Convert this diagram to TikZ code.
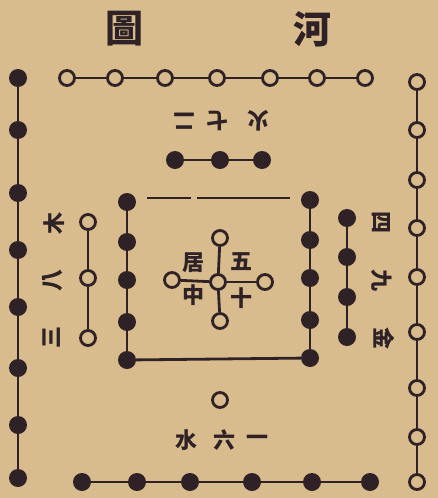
\documentclass[tikz,border=0pt]{standalone}
\usepackage{fontspec}
\newfontfamily\cjk{Noto Sans CJK TC}
\definecolor{bg}{HTML}{D9BC8E}
\definecolor{ink}{HTML}{2E2226}
\begin{document}
\begin{tikzpicture}[x=1pt,y=-1pt,
  bdot/.style={circle,fill=ink,minimum size=18pt,inner sep=0pt},
  wdot/.style={circle,draw=ink,line width=2.8pt,fill=bg,minimum size=15pt,inner sep=0pt},
  link/.style={draw=ink,line width=2.8pt},
  lab/.style={font=\cjk\bfseries\fontsize{22}{22}\selectfont,text=ink,inner sep=0pt},
  ttl/.style={font=\cjk\bfseries\fontsize{38}{38}\selectfont,text=ink,inner sep=0pt}]
\fill[bg] (0,0) rectangle (438,498);
\useasboundingbox (0,0) rectangle (438,498);
% title
\node[ttl] (t1) at (124,29) {圖};
\node[ttl] (t2) at (312,29) {河};
% outer left: 8 black
\foreach \y [count=\i] in {78,130,193,250,307,368,425,478}
  \node[bdot] (L\i) at (18,\y) {};
\foreach \i [remember=\i as \lasti (initially 1)] in {2,...,8}
  \draw[link] (L\lasti) -- (L\i);
% outer bottom: 6 black
\foreach \x [count=\i] in {82,137,190,252,312,370}
  \node[bdot] (B\i) at (\x,482) {};
\foreach \i [remember=\i as \lasti (initially 1)] in {2,...,6}
  \draw[link] (B\lasti) -- (B\i);
% outer top: 7 white
\foreach \x [count=\i] in {67,115,165,217,270,317,365}
  \node[wdot] (T\i) at (\x,78) {};
\foreach \i [remember=\i as \lasti (initially 1)] in {2,...,7}
  \draw[link] (T\lasti) -- (T\i);
% outer right: 9 white
\foreach \y [count=\i] in {82,130,180,228,277,332,388,437,482}
  \node[wdot] (R\i) at (417,\y) {};
\foreach \i [remember=\i as \lasti (initially 1)] in {2,...,9}
  \draw[link] (R\lasti) -- (R\i);
% inner left: 3 white
\foreach \y [count=\i] in {222,278,338}
  \node[wdot] (IL\i) at (88,\y) {};
\foreach \i [remember=\i as \lasti (initially 1)] in {2,3}
  \draw[link] (IL\lasti) -- (IL\i);
% inner right: 4 black
\foreach \y [count=\i] in {218,257,297,337}
  \node[bdot] (IR\i) at (347,\y) {};
\foreach \i [remember=\i as \lasti (initially 1)] in {2,...,4}
  \draw[link] (IR\lasti) -- (IR\i);
% inner top: black
\foreach \x [count=\i] in {175,220,262}
  \node[bdot] (IT\i) at (\x,160) {};
\draw[link] (IT1) -- (IT2);
\draw[link] (IT2) -- (IT3);
% inner bottom: 1 white
\node[wdot] (IB) at (220,400) {};
% frame columns: 5 + 5 black
\foreach \y [count=\i] in {202,242,280,322,360}
  \node[bdot] (FL\i) at (127,\y) {};
\foreach \y [count=\i] in {200,240,278,320,358}
  \node[bdot] (FR\i) at (310,\y) {};
\foreach \i [remember=\i as \lasti (initially 1)] in {2,...,5}
  {\draw[link] (FL\lasti) -- (FL\i);
   \draw[link] (FR\lasti) -- (FR\i);}
\draw[link] (FL5) -- (FR5);
\coordinate (TLa) at (147,198);
\coordinate (TLb) at (191,198);
\coordinate (TLc) at (197,198);
\coordinate (TLd) at (290,198);
\draw[link] (TLa) -- (TLb);
\draw[link] (TLc) -- (TLd);
% centre: 5 white
\node[wdot] (C0) at (218,282) {};
\node[wdot] (Cn) at (220,238) {};
\node[wdot] (Cs) at (220,321) {};
\node[wdot] (Cw) at (172,280) {};
\node[wdot] (Ce) at (265,282) {};
\draw[link] (Cn) -- (C0);
\draw[link] (C0) -- (Cs);
\draw[link] (Cw) -- (C0);
\draw[link] (C0) -- (Ce);
\node[lab] (c5) at (241,262) {五};
\node[lab] (c10) at (241,298) {十};
\node[lab] (cj) at (193,263) {居};
\node[lab] (cz) at (193,295) {中};
% labels
\node[lab,rotate=180] (h1) at (184,121) {二};
\node[lab,rotate=180] (h2) at (217,121) {七};
\node[lab,rotate=180] (h3) at (258,121) {火};
\node[lab] (s1) at (186,440) {水};
\node[lab] (s2) at (224,440) {六};
\node[lab] (s3) at (257,440) {一};
\node[lab,rotate=90] (m1) at (54,223) {木};
\node[lab,rotate=90] (m2) at (53,280) {八};
\node[lab,rotate=90] (m3) at (52,337) {三};
\node[lab,rotate=-90] (j1) at (381,222) {四};
\node[lab,rotate=-90] (j2) at (382,280) {九};
\node[lab,rotate=-90] (j3) at (384,338) {金};
\end{tikzpicture}
\end{document}
